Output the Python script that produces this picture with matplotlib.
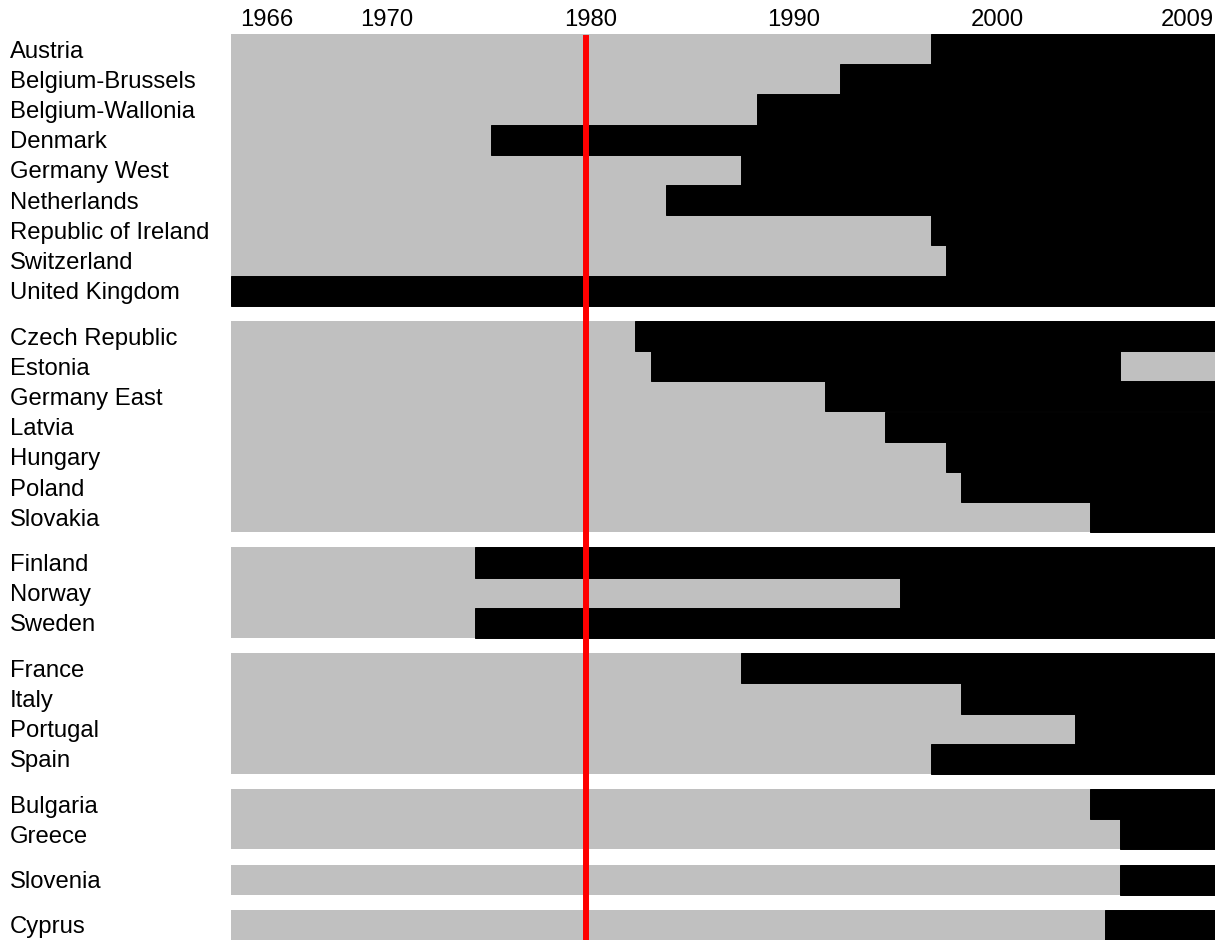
import numpy as np
import matplotlib.pyplot as plt

plt.rcParams['font.family'] = ['Liberation Sans', 'DejaVu Sans']

# rows, top to bottom, split into groups
countries = ["Austria", "Belgium-Brussels", "Belgium-Wallonia", "Denmark", "Germany West",
             "Netherlands", "Republic of Ireland", "Switzerland", "United Kingdom",
             "Czech Republic", "Estonia", "Germany East", "Latvia", "Hungary", "Poland", "Slovakia",
             "Finland", "Norway", "Sweden",
             "France", "Italy", "Portugal", "Spain",
             "Bulgaria", "Greece",
             "Slovenia",
             "Cyprus"]
group_sizes = [9, 7, 3, 4, 2, 1, 1]

# span of the time axis
year_from = 1962.48
year_to = 2011.05

# year where the black period starts (and ends, if it ends before the axis end)
black_start = [1997.03, 1992.54, 1988.44, 1975.31, 1987.65, 1983.95, 1997.03, 1997.77, year_from,
               1982.42, 1983.21, 1991.80, 1994.76, 1997.77, 1998.51, 2004.88,
               1974.52, 1995.50, 1974.52,
               1987.65, 1998.51, 2004.14, 1997.03,
               2004.88, 2006.36,
               2006.36,
               2005.62]
black_end = [year_to] * len(countries)
black_end[countries.index("Estonia")] = 2006.36

marker_year = 1980
tick_years = ["1966", "1970", "1980", "1990", "2000", "2009"]
tick_pos = [1964.25, 1970.15, 1980.25, 1990.25, 2000.3, 2009.7]

# y positions with half-row gaps between groups
ypos = []
group_top = []
y = 0.0
for g in group_sizes:
    group_top.append(y)
    for i in range(g):
        ypos.append(y)
        y += 1
    y += 0.5
ypos = np.array(ypos)
group_mid = np.array(group_top) + (np.array(group_sizes) - 1) / 2

fig = plt.figure(figsize=(12.15, 9.4), dpi=100)
ax = fig.add_axes([231 / 1215, 0, 1 - 231 / 1215, 906 / 940])

# grey background, one block per group (avoids seams between rows)
ax.barh(group_mid, year_to - year_from, left=year_from, height=group_sizes,
        color='#c0c0c0', linewidth=0)
widths = np.array(black_end) - np.array(black_start)
ax.barh(ypos, widths, left=black_start, height=1.0, color='black',
        edgecolor='black', linewidth=0.7)

ax.axvline(marker_year, ymin=0, ymax=0.9956, color='#ff0000', linewidth=4.3)

ax.set_xlim(year_from, year_to)
ax.set_ylim(ypos[-1] + 0.5, -0.5)

ax.xaxis.tick_top()
ax.set_xticks(tick_pos, tick_years, fontsize=17.2)
ax.set_yticks(ypos, countries, fontsize=17.2, ha='left')
ax.tick_params(axis='x', length=0, pad=2)
ax.tick_params(axis='y', length=0, pad=159)
for s in ax.spines.values():
    s.set_visible(False)

fig.savefig('out.png', dpi=100)
